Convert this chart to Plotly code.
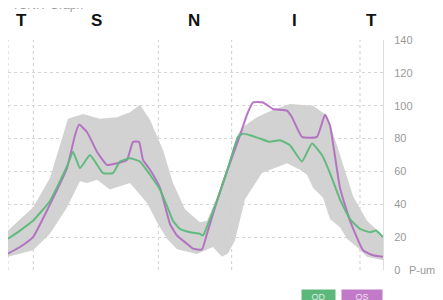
import plotly.graph_objects as go

# Angles (deg along TSNIT scan) and thickness values (um)
od_angle = [0, 11.5, 24, 40.3, 56.6, 62.4, 69.1, 78.7, 91.2, 100.8, 107.5, 117.1, 126.7, 136.3, 145.9, 152.6, 158.4, 165.1, 174.7, 184.3, 187.2, 192, 200.6, 210.2, 220.8, 225.6, 232.3, 241.9, 251.5, 261.1, 270.7, 282.2, 291.8, 301.4, 309.1, 318.7, 328.3, 337.9, 347.5, 353.3, 360]
od_value = [19, 24, 30, 42, 63, 72, 62, 70, 59, 59, 66, 68, 66, 58, 49, 39, 30, 25, 23, 22, 21, 28, 42, 60, 81, 83, 82, 80, 78, 79, 76, 66, 77, 70, 59, 43, 31, 25, 23, 24, 20]

os_angle = [0, 11.5, 24, 40.3, 56.6, 64.3, 68.2, 75.8, 85.4, 95, 104.6, 114.2, 120, 125.8, 129.6, 136.3, 145.9, 155.5, 162.2, 171.8, 177.6, 186.2, 191, 200.6, 210.2, 222.7, 229.4, 235.2, 244.8, 254.4, 267.8, 272.6, 282.2, 296.6, 304.3, 309.1, 318.7, 328.3, 340.8, 350.4, 360]
os_value = [10, 14, 20, 40, 62, 82, 88.5, 84, 72, 64, 65, 67, 78, 78, 67, 61, 50, 28, 21, 16, 13, 12.5, 22, 42, 60, 82, 94.5, 102, 102, 98, 97, 93, 81, 81, 94.5, 88, 50, 30, 12, 9, 8]

band_up_angle = [0, 24, 40.3, 52.8, 57.6, 72, 88.3, 104.6, 117.1, 126.7, 136.3, 148.8, 158.4, 169.9, 184.3, 191, 201.6, 211.2, 220.8, 227.5, 239, 254.4, 270.7, 292.8, 306.2, 315.8, 323.5, 331.2, 344.6, 360]
band_up_value = [24, 38, 56, 82, 92, 95, 92, 93, 96, 100.6, 91.5, 73, 53, 37, 29, 30, 46, 64, 83, 88, 93, 97.6, 101, 100, 94, 76, 60, 45, 30, 21]

band_lo_angle = [0, 24, 40.3, 56.6, 69.1, 75.8, 85.4, 97.9, 117.1, 133.4, 143, 152.6, 162.2, 181.4, 196.8, 205.4, 211.2, 217.9, 227.5, 243.8, 256.3, 267.8, 280.3, 287, 292.8, 302.4, 309.1, 318.7, 325.4, 335, 344.6, 360]
band_lo_value = [8, 12, 22, 38, 54, 53, 55, 49, 53, 41, 29, 19, 12.7, 9.7, 14, 8, 10, 18, 43, 59, 62, 65, 61, 58, 50, 44, 31, 26, 19, 14, 8, 6]

quadrant_lines = [0, 24.3, 144.3, 214.7, 337.9]
sector_labels = ["T", "S", "N", "I", "T"]
sector_angles = [13.2, 84.5, 178.6, 274.6, 349.4]
y_ticks = [0, 20, 40, 60, 80, 100, 120, 140]

fig = go.Figure()

fig.add_trace(go.Scatter(
    x=band_up_angle + band_lo_angle[::-1],
    y=band_up_value + band_lo_value[::-1],
    fill="toself", fillcolor="rgba(206,206,206,0.92)",
    line=dict(width=0), mode="lines", hoverinfo="skip", showlegend=False))

fig.add_trace(go.Scatter(
    x=os_angle, y=os_value, mode="lines",
    line=dict(color="rgba(176,104,192,0.9)", width=2, shape="spline", smoothing=0.4),
    showlegend=False))

fig.add_trace(go.Scatter(
    x=od_angle, y=od_value, mode="lines",
    line=dict(color="rgba(92,184,122,0.95)", width=2, shape="spline", smoothing=0.4),
    showlegend=False))

for a in quadrant_lines:
    fig.add_shape(type="line", xref="x", yref="y", x0=a, x1=a, y0=0, y1=140,
                  line=dict(color="#cfcfcf", width=1, dash="dot"), layer="below")

font_family = "Arial, Liberation Sans, sans-serif"

annotations = []
for lab, a in zip(sector_labels, sector_angles):
    annotations.append(dict(x=a, y=1.083, xref="x", yref="paper", text="<b>" + lab + "</b>",
                            showarrow=False,
                            font=dict(family=font_family, size=17, color="#111111"),
                            xanchor="center", yanchor="middle"))
annotations.append(dict(x=0.005, y=1.1125, xref="paper", yref="paper", text="TSNIT Graph",
                        showarrow=False, xanchor="left", yanchor="bottom",
                        font=dict(family=font_family, size=12, color="#999999")))
annotations.append(dict(x=1.0, y=0, xref="paper", yref="y", text="P-um", showarrow=False,
                        xanchor="left", yanchor="middle", xshift=24,
                        font=dict(family=font_family, size=11, color="#9a9a9a")))
annotations.append(dict(x=0.828, y=-0.0826, xref="paper", yref="paper", text="OD", showarrow=False,
                        bgcolor="#5cb87a", width=31, height=12, xanchor="center", yanchor="top",
                        font=dict(family=font_family, size=9, color="#dff2e4")))
annotations.append(dict(x=0.944, y=-0.0826, xref="paper", yref="paper", text="OS", showarrow=False,
                        bgcolor="#c07ac8", width=38, height=12, xanchor="center", yanchor="top",
                        font=dict(family=font_family, size=9, color="#f3e2f5")))

# The page body has an 8px margin, so the figure is sized to fill the rest of the 443x300 window.
fig.update_layout(
    width=435, height=292,
    margin=dict(l=0, r=60, t=32, b=30),
    paper_bgcolor="white", plot_bgcolor="white",
    font=dict(family=font_family),
    xaxis=dict(range=[0, 360], showgrid=False, zeroline=False, showticklabels=False,
               showline=False, fixedrange=True),
    yaxis=dict(range=[0, 140], side="right", tickvals=y_ticks,
               ticktext=[str(v) for v in y_ticks],
               showgrid=True, gridcolor="#d6d6d6", griddash="dot", gridwidth=1,
               zeroline=False, showline=True, linecolor="#dddddd", linewidth=1,
               ticks="", ticklabelstandoff=8,
               tickfont=dict(family=font_family, size=11, color="#9a9a9a")),
    annotations=annotations,
)

fig.write_html("out.html")
